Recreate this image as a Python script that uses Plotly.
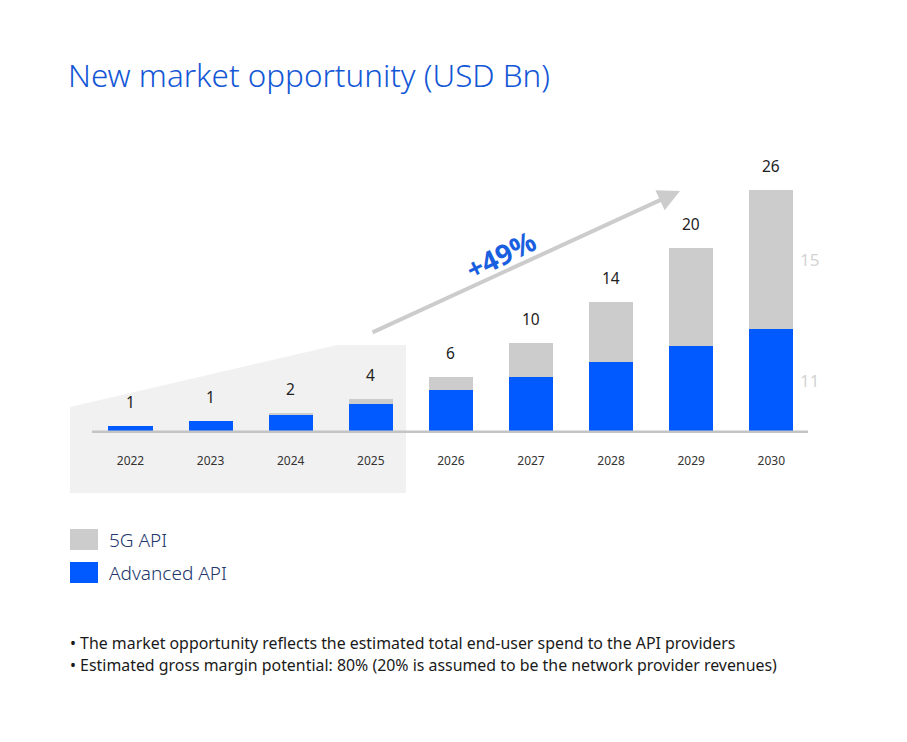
import plotly.graph_objects as go

# ---- data ----
years = ["2022", "2023", "2024", "2025", "2026", "2027", "2028", "2029", "2030"]
advanced_api = [0.61, 1.15, 1.8, 2.98, 4.48, 5.85, 7.5, 9.2, 11.0]
api_5g = [0.0, 0.0, 0.2, 0.52, 1.43, 3.65, 6.5, 10.5, 15.0]
total_labels = ["1", "1", "2", "4", "6", "10", "14", "20", "26"]
last_segment_labels = ["11", "15"]
growth_label = "+49%"
title_text = "New market opportunity (USD Bn)"
footnotes = [
    "• The market opportunity reflects the estimated total end-user spend to the API providers",
    "• Estimated gross margin potential: 80% (20% is assumed to be the network provider revenues)",
]

BLUE = "#005aff"
GRAY = "#cccccc"
FONT = "Noto Sans"
OFF = 8  # page body margin
W, H = 907 - 2 * OFF, 742 - 2 * OFF


def px(x):
    return (x - OFF) / W


def py(y):
    return 1 - (y - OFF) / H


fig = go.Figure()
xs = list(range(len(years)))
fig.add_trace(go.Bar(x=xs, y=advanced_api, name="Advanced API", marker_color=BLUE,
                     width=0.55, marker_line_width=0))
fig.add_trace(go.Bar(x=xs, y=api_5g, name="5G API", marker_color=GRAY,
                     width=0.55, marker_line_width=0))

annotations = []
totals = [a + b for a, b in zip(advanced_api, api_5g)]
for i, (t, lab) in enumerate(zip(totals, total_labels)):
    annotations.append(dict(x=i, y=t, text=lab, showarrow=False, yshift=24,
                            font=dict(family=FONT, size=15.5, color="#222222")))

# labels to the right of last bar
last = len(years) - 1
seg_mid = [advanced_api[last] / 2, advanced_api[last] + api_5g[last] / 2]
for lab, ym in zip(last_segment_labels, seg_mid):
    annotations.append(dict(x=last + 0.48, y=ym, text=lab, showarrow=False, xanchor="center",
                            font=dict(family=FONT, size=17, color="#d3d3d3")))

# growth arrow
annotations.append(dict(x=px(680), y=py(191), ax=371 - 680, ay=333 - 191,
                        xref="paper", yref="paper", axref="pixel", ayref="pixel",
                        showarrow=True, arrowhead=2, arrowsize=1.1, arrowwidth=4,
                        arrowcolor="#cccccc", text=""))
annotations.append(dict(x=px(500), y=py(255), xref="paper", yref="paper", text="<b>" + growth_label + "</b>",
                        textangle=-26, showarrow=False,
                        font=dict(family=FONT, size=28, color="#1a5fe0")))

# title
annotations.append(dict(x=px(66), y=py(74), xref="paper", yref="paper", xanchor="left", yanchor="middle",
                        text=title_text, showarrow=False,
                        font=dict(family=FONT, size=31.4, color="#1457d6", weight=300)))

# legend (manual)
legend_items = [("5G API", GRAY, 529), ("Advanced API", BLUE, 562)]
shapes = []
for name, col, top in legend_items:
    shapes.append(dict(type="rect", xref="paper", yref="paper", x0=px(70), x1=px(98),
                       y0=py(top), y1=py(top + 21), fillcolor=col, line=dict(width=0)))
    annotations.append(dict(x=px(107), y=py(top + 11), xref="paper", yref="paper", xanchor="left",
                            yanchor="middle", text=name, showarrow=False,
                            font=dict(family=FONT, size=19, color="#22366b", weight=300)))

# footnotes
for k, line in enumerate(footnotes):
    annotations.append(dict(x=px(68), y=py(643 + 22 * k), xref="paper", yref="paper", xanchor="left",
                            yanchor="middle", text=line, showarrow=False,
                            font=dict(family=FONT, size=15.9, color="#1a1a1a")))

# shaded history panel
shapes.insert(0, dict(type="path", xref="paper", yref="paper", layer="below",
                      path=f"M {px(70)},{py(407)} L {px(337)},{py(345)} L {px(406)},{py(345)} "
                           f"L {px(406)},{py(493)} L {px(70)},{py(493)} Z",
                      fillcolor="#f1f1f1", line=dict(width=0)))
# baseline
shapes.append(dict(type="line", xref="paper", yref="y", x0=px(92), x1=px(808), y0=0, y1=0,
                   line=dict(color="#c4c4c4", width=2.5), layer="above"))

x0 = -(130.5 - OFF) / 80.1
y_top = (431.7 - OFF) / 9.3
fig.update_layout(
    width=W, height=H, margin=dict(l=0, r=0, t=0, b=0),
    paper_bgcolor="white", plot_bgcolor="rgba(0,0,0,0)",
    barmode="stack", showlegend=False,
    xaxis=dict(range=[x0, x0 + W / 80.1], tickvals=xs, ticktext=years,
               anchor="free", position=py(432), showgrid=False, zeroline=False, showline=False,
               ticks="", ticklabelstandoff=20, tickfont=dict(family=FONT, size=12, color="#333333")),
    yaxis=dict(range=[y_top - H / 9.3, y_top], visible=False, showgrid=False),
    annotations=annotations, shapes=shapes,
)

fig.write_html("out.html")
